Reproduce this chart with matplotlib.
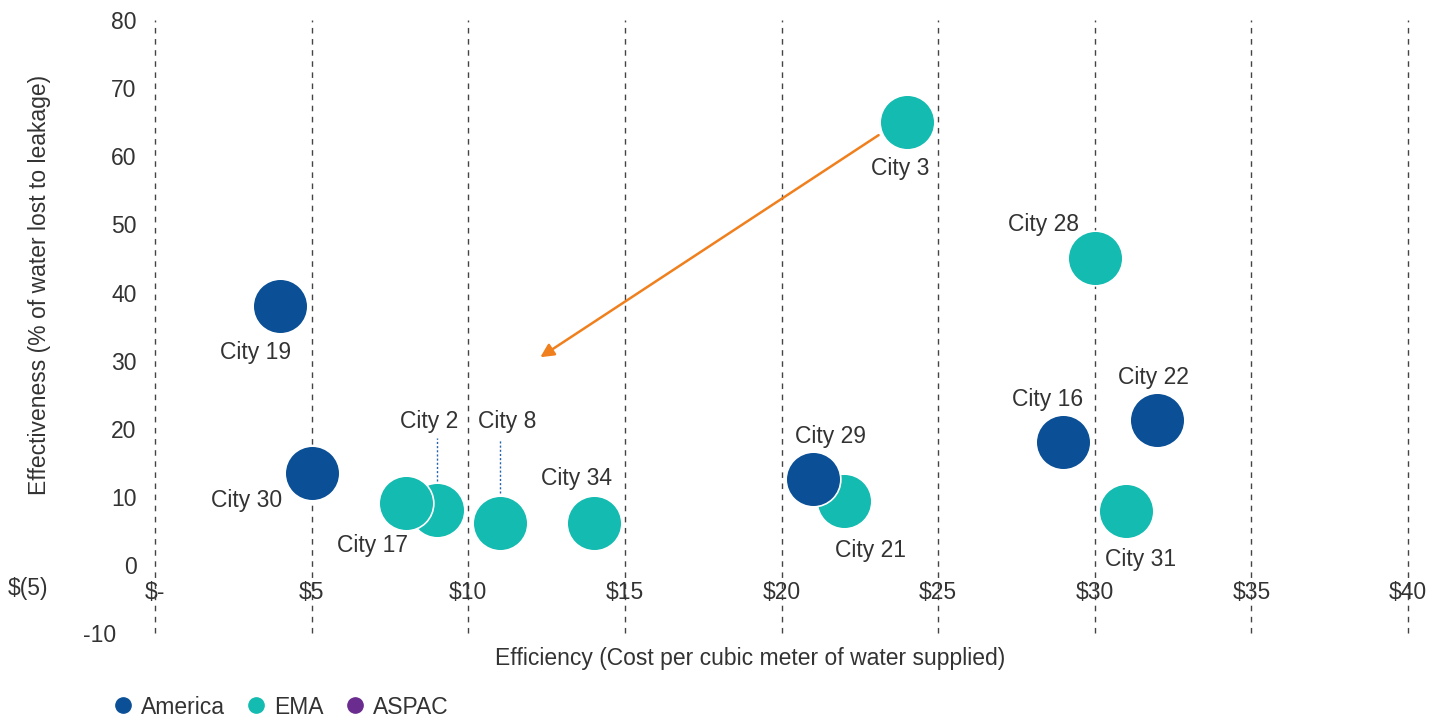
import matplotlib
matplotlib.use("Agg")
import matplotlib.pyplot as plt
from matplotlib.lines import Line2D
import matplotlib.transforms as mtransforms

plt.rcParams['font.family'] = ['Liberation Sans', 'DejaVu Sans']

# ---- data ----
cities = ["City 3", "City 28", "City 19", "City 30", "City 2", "City 17", "City 8",
          "City 34", "City 21", "City 29", "City 16", "City 22", "City 31"]
regions = ["EMA", "EMA", "America", "America", "EMA", "EMA", "EMA",
           "EMA", "EMA", "America", "America", "America", "EMA"]
cost = [24, 30, 4, 5, 9, 8, 11, 14, 22, 21, 29, 32, 31]
leakage = [65, 45, 38, 13.5, 8.1, 9.1, 6.2, 6.2, 9.4, 12.6, 18, 21.3, 7.9]

x_ticks = [0, 5, 10, 15, 20, 25, 30, 35, 40]
x_tick_labels = ["$-", "$5", "$10", "$15", "$20", "$25", "$30", "$35", "$40"]
y_ticks = [-10, 0, 10, 20, 30, 40, 50, 60, 70, 80]

region_names = ["America", "EMA", "ASPAC"]
region_colors = {"America": "#0B5096", "EMA": "#14BBB0", "ASPAC": "#6A2C8F"}

# label offsets in pixels (dx, dy) relative to point
label_offsets = {
    "City 3": (-7, -46), "City 28": (-51, 34), "City 19": (-25, -46),
    "City 30": (-65, -27), "City 17": (-33, -42), "City 2": (-8, 88),
    "City 8": (8, 101), "City 34": (-17, 44), "City 29": (18, 43),
    "City 21": (26, -50), "City 16": (-16, 43), "City 22": (-4, 42),
    "City 31": (14, -48),
}

text_color = "#333333"
fs = 16.5
W, H = 1437, 720
fig = plt.figure(figsize=(W / 100, H / 100), dpi=100)
pxu_x = (1408 - 155) / 40
pxu_y = (565 - 20) / 80
xl = (-0.5, 40.5)
yl = (-11, 81)
left = (155 + xl[0] * pxu_x) / W
width = (xl[1] - xl[0]) * pxu_x / W
bottom = (H - (565 - yl[0] * pxu_y)) / H
height = (yl[1] - yl[0]) * pxu_y / H
ax = fig.add_axes([left, bottom, width, height])
ax.set_xlim(*xl)
ax.set_ylim(*yl)
for s in ax.spines.values():
    s.set_visible(False)

# dashed verticals
for xv in x_ticks:
    ax.plot([xv, xv], [-10, 80], color="#444444", lw=1.0, ls=(0, (4, 4)), zorder=1)

# scatter, point by point to keep the overlap order
for k, (xv, yv, r) in enumerate(zip(cost, leakage, regions)):
    ax.scatter([xv], [yv], s=1550, color=region_colors[r], edgecolors="white",
               linewidths=1.2, zorder=3 + k * 0.01)

# labels
for name, xv, yv in zip(cities, cost, leakage):
    dx, dy = label_offsets[name]
    ax.annotate(name, (xv, yv), xytext=(dx * 0.72, dy * 0.72), textcoords="offset points",
                ha="center", va="center", fontsize=fs, color=text_color, zorder=4)

# leader lines for City 2 and City 8
for name in ["City 2", "City 8"]:
    i = cities.index(name)
    y0 = leakage[i] + 4.3
    y1 = y0 + (6.3 if name == "City 2" else 7.8)
    ax.plot([cost[i], cost[i]], [y0, y1], color="#2563AE", lw=1.0, ls=(0, (1.5, 1.5)), zorder=2)

# arrow
ax.annotate("", xy=(12.3, 30.5), xytext=(23.1, 63.1),
            arrowprops=dict(arrowstyle="-|>", color="#F0801E", lw=1.8,
                            mutation_scale=20, shrinkA=0, shrinkB=0), zorder=5)

# y ticks
ax.set_xticks([])
ax.set_yticks(y_ticks)
ax.set_yticklabels([str(v) for v in y_ticks])
ax.tick_params(axis="y", length=0, pad=2, labelsize=fs, labelcolor=text_color)
for lab in ax.get_yticklabels():
    if lab.get_text() == "-10":
        lab.set_transform(lab.get_transform() + mtransforms.ScaledTranslation(-20 / 100, 0, fig.dpi_scale_trans))

# x tick labels at y=0
for xv, lab in zip(x_ticks, x_tick_labels):
    ax.annotate(lab, (xv, 0), xytext=(0, -20), textcoords="offset points",
                ha="center", va="center", fontsize=fs, color=text_color, zorder=4)
fig.text(28 / W, 1 - 588 / H, "$(5)", ha="center", va="center", fontsize=fs, color=text_color)

fig.text(40 / W, 1 - 285 / H, "Effectiveness (% of water lost to leakage)", rotation=90,
         ha="center", va="center", fontsize=fs, color=text_color)
fig.text(750 / W, 1 - 659 / H, "Efficiency (Cost per cubic meter of water supplied)",
         ha="center", va="center", fontsize=fs, color=text_color)

handles = [Line2D([], [], marker="o", ls="", markersize=11, color=region_colors[r]) for r in region_names]
fig.legend(handles, region_names, loc="center left", bbox_to_anchor=(102 / W, 1 - 707 / H),
           ncol=3, frameon=False, fontsize=fs, labelcolor=text_color,
           handletextpad=0.3, columnspacing=0.85, handlelength=1.0, borderaxespad=0)

fig.savefig("out.png", dpi=100)
